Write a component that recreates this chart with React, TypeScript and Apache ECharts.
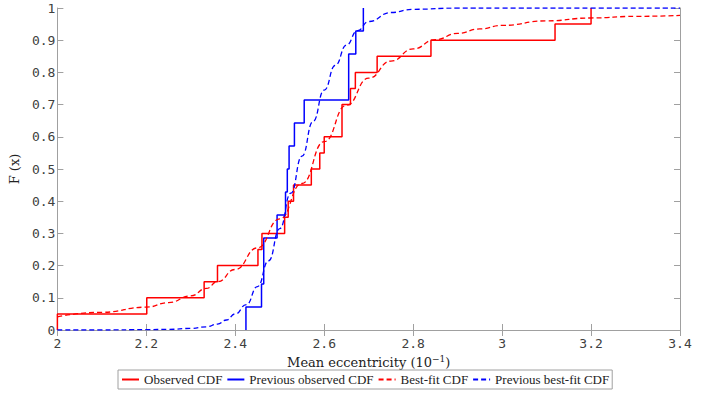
import React, { useEffect, useRef } from "react";
import * as echarts from "echarts";

// Observed CDF (red steps)
const obsX = [2.0, 2.0, 2.201, 2.33, 2.36, 2.451, 2.46, 2.511, 2.519, 2.531, 2.571, 2.59, 2.6, 2.64, 2.659, 2.67, 2.719, 2.84, 3.119, 3.2];
const obsF = [0, 0.05, 0.1, 0.15, 0.2, 0.25, 0.3, 0.35, 0.4, 0.45, 0.5, 0.55, 0.6, 0.7, 0.75, 0.8, 0.85, 0.9, 0.95, 1.0];

// Previous observed CDF (blue steps)
const prevObsX = [2.424, 2.424, 2.459, 2.464, 2.494, 2.513, 2.517, 2.521, 2.533, 2.555, 2.655, 2.671, 2.688];
const prevObsF = [0, 0.0714, 0.1429, 0.2857, 0.3571, 0.4286, 0.5, 0.5714, 0.6429, 0.7143, 0.8571, 0.9286, 1.0];

// Best-fit CDF (red dashed)
const fitX = [2.0, 2.1, 2.2, 2.25, 2.3, 2.335, 2.36, 2.4, 2.45, 2.5, 2.55, 2.6, 2.65, 2.7, 2.75, 2.8, 2.85, 2.9, 2.95, 3.0, 3.1, 3.2, 3.3, 3.4];
const fitF = [0.041, 0.055, 0.071, 0.085, 0.106, 0.129, 0.15, 0.188, 0.255, 0.345, 0.455, 0.585, 0.698, 0.782, 0.835, 0.873, 0.902, 0.921, 0.935, 0.946, 0.96, 0.969, 0.974, 0.977];

// Previous best-fit CDF (blue dashed)
const prevFitX = [2.0, 2.1, 2.2, 2.25, 2.3, 2.335, 2.36, 2.38, 2.4, 2.425, 2.45, 2.475, 2.5, 2.525, 2.55, 2.575, 2.6, 2.625, 2.65, 2.675, 2.7, 2.75, 2.8, 2.9, 3.0, 3.2, 3.4];
const prevFitF = [0, 0, 0.001, 0.002, 0.005, 0.01, 0.018, 0.031, 0.05, 0.079, 0.135, 0.215, 0.315, 0.425, 0.54, 0.648, 0.745, 0.822, 0.885, 0.93, 0.958, 0.986, 0.996, 1.0, 1.0, 1.0, 1.0];

const xTicks = { min: 2, max: 3.4, interval: 0.2 };
const yTicks = { min: 0, max: 1, interval: 0.1 };

const zip = (xs: number[], ys: number[]) => xs.map((x, i) => [x, ys[i]]);

const AXIS_COLOR = "#a0a0a0";
const LABEL_COLOR = "#404040";
const MONO = "monospace";
const SERIF = "DejaVu Serif";
const LEGEND_FONT = "Liberation Serif";

const fmt = (v: number) => String(Number(v.toFixed(1)));

export default function App() {
  const ref = useRef<HTMLDivElement>(null);
  useEffect(() => {
    if (!ref.current) return;
    const chart = echarts.init(ref.current, undefined, { renderer: "svg" });
    const commonAxisLine = { show: true, lineStyle: { color: AXIS_COLOR, width: 1 } };
    const commonTick = { show: true, inside: true, length: 6, lineStyle: { color: AXIS_COLOR } };
    chart.setOption({
      animation: false,
      backgroundColor: "#fff",
      grid: { left: 49, right: 28, top: 8, bottom: 63, containLabel: false },
      xAxis: [
        {
          type: "value",
          ...xTicks,
          axisLine: commonAxisLine,
          axisTick: commonTick,
          splitLine: { show: false },
          axisLabel: { margin: 7, color: LABEL_COLOR, fontFamily: MONO, fontSize: 13, formatter: fmt },
          name: "Mean eccentricity (10{sup|−1})",
          nameLocation: "middle",
          nameGap: 18,
          nameTextStyle: {
            fontFamily: SERIF,
            fontSize: 13,
            color: "#222",
            rich: { sup: { fontFamily: SERIF, fontSize: 9, color: "#222", verticalAlign: "top", padding: [0, 0, 6, 0] } },
          },
        },
        {
          type: "value",
          position: "top",
          ...xTicks,
          axisLine: commonAxisLine,
          axisTick: commonTick,
          axisLabel: { show: false },
          splitLine: { show: false },
        },
      ],
      yAxis: [
        {
          type: "value",
          ...yTicks,
          axisLine: commonAxisLine,
          axisTick: commonTick,
          splitLine: { show: false },
          axisLabel: { margin: 2, color: LABEL_COLOR, fontFamily: MONO, fontSize: 13, formatter: fmt },
          name: "F (x)",
          nameLocation: "middle",
          nameGap: 28,
          nameTextStyle: { fontFamily: SERIF, fontSize: 13, color: "#222" },
        },
        {
          type: "value",
          position: "right",
          ...yTicks,
          axisLine: commonAxisLine,
          axisTick: commonTick,
          axisLabel: { show: false },
          splitLine: { show: false },
        },
      ],
      legend: {
        left: 118,
        top: 370,
        padding: [3, 3, 3, 3],
        itemGap: 4,
        itemWidth: 17,
        itemHeight: 8,
        borderColor: AXIS_COLOR,
        borderWidth: 1,
        itemStyle: { opacity: 0, borderWidth: 0 },
        textStyle: { fontFamily: LEGEND_FONT, fontSize: 13, color: "#222" },
        data: ["Observed CDF", "Previous observed CDF", "Best-fit CDF", "Previous best-fit CDF"],
      },
      series: [
        {
          name: "Observed CDF",
          type: "line",
          step: "end",
          data: zip(obsX, obsF),
          symbol: "none",
          color: "#ff0000",
          lineStyle: { color: "#ff0000", width: 1.5 },
        },
        {
          name: "Previous observed CDF",
          type: "line",
          step: "end",
          data: zip(prevObsX, prevObsF),
          symbol: "none",
          color: "#0000ff",
          lineStyle: { color: "#0000ff", width: 1.5 },
        },
        {
          name: "Best-fit CDF",
          type: "line",
          smooth: true,
          smoothMonotone: "x",
          data: zip(fitX, fitF),
          symbol: "none",
          color: "#ff0000",
          lineStyle: { color: "#ff0000", width: 1.3, type: [5, 3] },
        },
        {
          name: "Previous best-fit CDF",
          type: "line",
          smooth: true,
          smoothMonotone: "x",
          data: zip(prevFitX, prevFitF),
          symbol: "none",
          color: "#0000ff",
          lineStyle: { color: "#0000ff", width: 1.3, type: [5, 3] },
        },
      ],
    });
    return () => chart.dispose();
  }, []);
  return <div ref={ref} style={{ width: 708, height: 393, position: "absolute", left: 0, top: 0 }} />;
}
